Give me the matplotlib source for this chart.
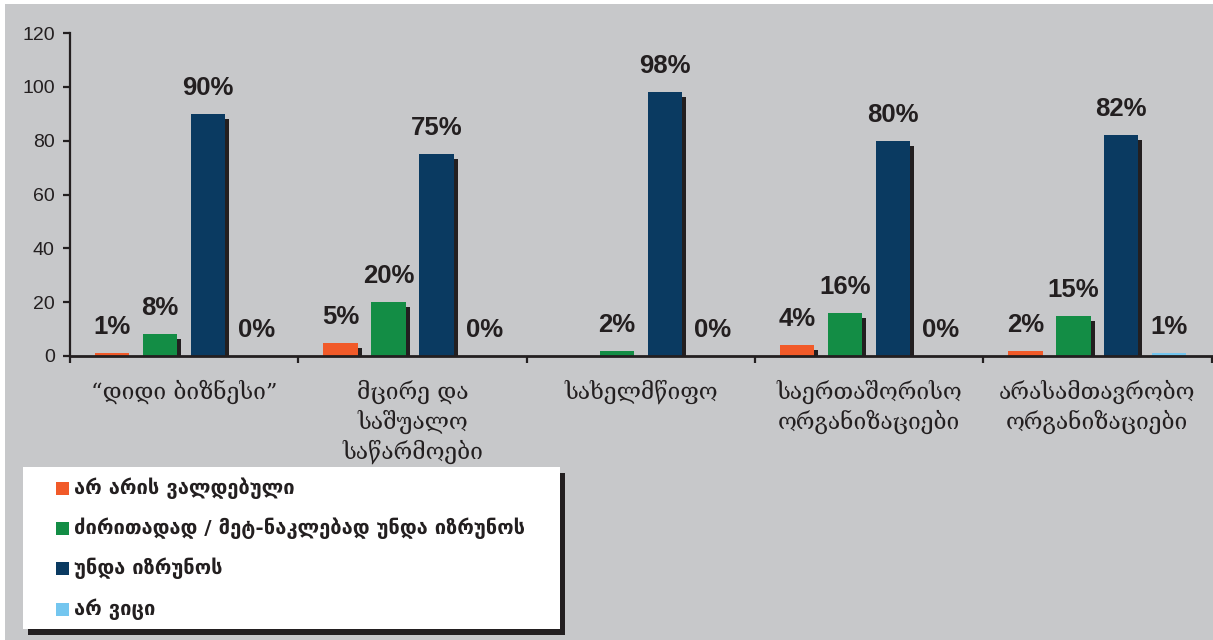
import matplotlib
matplotlib.use("Agg")
import matplotlib.pyplot as plt
from matplotlib.patches import Rectangle
from matplotlib.transforms import offset_copy
import numpy as np

# ---- data -------------------------------------------------------------
categories = [
    "“დიდი ბიზნესი”",
    "მცირე და\nსაშუალო\nსაწარმოები",
    "სახელმწიფო",
    "საერთაშორისო\nორგანიზაციები",
    "არასამთავრობო\nორგანიზაციები",
]
series_names = [
    "არ არის ვალდებული",
    "ძირითადად / მეტ-ნაკლებად უნდა იზრუნოს",
    "უნდა იზრუნოს",
    "არ ვიცი",
]
not_obliged = [1, 5, None, 4, 2]
mostly_should = [8, 20, 2, 16, 15]
should_care = [90, 75, 98, 80, 82]
dont_know = [0, 0, 0, 0, 1]
y_ticks = [0, 20, 40, 60, 80, 100, 120]

series = [not_obliged, mostly_should, should_care, dont_know]
colors = ["#F15A29", "#138D45", "#0A3A61", "#74C6EF"]

INK = "#231F20"
GREY_BG = "#C7C8CA"
W, H = 1213, 640

fig = plt.figure(figsize=(W / 100, H / 100), dpi=100)
fig.patch.set_facecolor("white")
fig.patches.append(Rectangle((5 / W, 0), 1 - 5 / W, 1 - 4 / H,
                             transform=fig.transFigure, facecolor=GREY_BG,
                             edgecolor="none", zorder=-10))

ax = fig.add_axes([70 / W, 1 - 356 / H, (1211.5 - 70) / W, (356 - 33) / H])
ax.set_zorder(0.5)
ax.set_facecolor("none")
ax.set_xlim(-0.5, len(categories) - 0.5)
ax.set_ylim(0, 120)

x = np.arange(len(categories))
step = 0.21
width = 0.15
offsets = (np.arange(4) - 1.5) * step

# drop shadow: same bar nudged right and down, clipped at the axis
shadow_tr = offset_copy(ax.transData, fig=fig, x=4, y=-5, units="dots")

for k, (vals, col) in enumerate(zip(series, colors)):
    xs = [xi + offsets[k] for xi, v in zip(x, vals) if v is not None]
    hs = [v for v in vals if v is not None]
    ax.bar(xs, hs, width=width, color=INK, transform=shadow_tr, zorder=2)
    ax.bar(xs, hs, width=width, color=col, zorder=3)
    for xi, v in zip(xs, hs):
        ax.annotate(f"{v}%", (xi, v), xytext=(0, 13.7), textcoords="offset points",
                    ha="center", va="baseline", fontsize=18.5, fontweight="bold",
                    family="Liberation Sans", color=INK, zorder=4)

# axes styling
for side in ("top", "right"):
    ax.spines[side].set_visible(False)
ax.spines["left"].set_linewidth(1.6)
ax.spines["bottom"].set_linewidth(2.0)
ax.spines["left"].set_color(INK)
ax.spines["bottom"].set_color(INK)
ax.spines["bottom"].set_zorder(5)

ax.set_yticks(y_ticks)
ax.set_yticklabels([str(t) for t in y_ticks], fontsize=14, family="Liberation Sans", color=INK)
ax.tick_params(axis="y", direction="out", length=5, width=1.6, color=INK, pad=6)

ax.set_xticks(x)
ax.set_xticklabels(categories, family=["DejaVu Serif", "DejaVu Sans"], fontsize=16.4,
                   color=INK, linespacing=1.3, va="top")
ax.tick_params(axis="x", which="major", length=0, pad=17)
ax.set_xticks(np.arange(len(categories) + 1) - 0.5, minor=True)
ax.tick_params(axis="x", which="minor", direction="out", length=5, width=1.6, color=INK)

# legend panel with drop shadow
def fig_rect(x0, y0, x1, y1, **kw):
    return Rectangle((x0 / W, 1 - y1 / H), (x1 - x0) / W, (y1 - y0) / H,
                     transform=fig.transFigure, **kw)

fig.patches.append(fig_rect(28, 473, 565, 635, facecolor=INK, edgecolor="none", zorder=1))
fig.patches.append(fig_rect(23, 467, 560, 629, facecolor="white", edgecolor="none", zorder=2))

row_y = [488, 528.5, 568.5, 609]
for name, col, yc in zip(series_names, colors, row_y):
    fig.patches.append(fig_rect(56, yc - 6.5, 69, yc + 6.5, facecolor=col,
                                edgecolor="none", zorder=3))
    fig.text(74 / W, 1 - yc / H, name, ha="left", va="center", fontsize=14.5,
             fontweight="bold", family=["DejaVu Sans"], color=INK, zorder=4)

fig.savefig("out.png", dpi=100, facecolor=fig.get_facecolor())
